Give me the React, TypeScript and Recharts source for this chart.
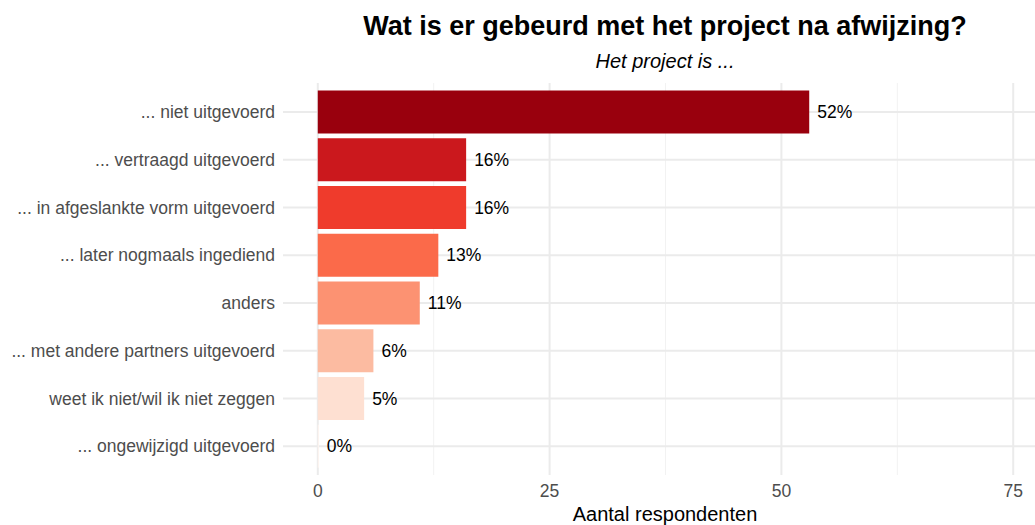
import React from 'react';
import {
  BarChart,
  Bar,
  XAxis,
  YAxis,
  CartesianGrid,
  LabelList,
  Cell,
} from 'recharts';

// antwoordcategorieën (van boven naar beneden)
const categorieen = [
  '... niet uitgevoerd',
  '... vertraagd uitgevoerd',
  '... in afgeslankte vorm uitgevoerd',
  '... later nogmaals ingediend',
  'anders',
  '... met andere partners uitgevoerd',
  'weet ik niet/wil ik niet zeggen',
  '... ongewijzigd uitgevoerd',
];

const aantallen = [53, 16, 16, 13, 11, 6, 5, 0];

const percentages = ['52%', '16%', '16%', '13%', '11%', '6%', '5%', '0%'];

const xTicks = [0, 25, 50, 75];
const xMinorTicks = [12.5, 37.5, 62.5];

// RColorBrewer Reds (8), donker naar licht
const KLEUREN = ['#99000D', '#CB181D', '#EF3B2C', '#FB6A4A', '#FC9272', '#FCBBA1', '#FEE0D2', '#FFF5F0'];

const FONT = '"Liberation Sans", Arial, Helvetica, sans-serif';

const dados = categorieen.map((cat, i) => ({
  cat,
  n: aantallen[i],
  pct: percentages[i],
}));

const tekst = (top: number, size: number, extra: React.CSSProperties = {}): React.CSSProperties => ({
  position: 'absolute',
  left: 0,
  width: 1330,
  top,
  textAlign: 'center',
  fontSize: size,
  lineHeight: `${size}px`,
  fontFamily: FONT,
  color: '#000',
  whiteSpace: 'nowrap',
  ...extra,
});

export default function App() {
  return (
    <div
      style={{
        position: 'absolute',
        left: 0,
        top: 0,
        width: 1035,
        height: 525,
        overflow: 'hidden',
        background: '#fff',
      }}
    >
      <BarChart
        width={1050}
        height={525}
        data={dados}
        layout="vertical"
        margin={{ top: 83, right: 2, bottom: 0, left: 0 }}
        barCategoryGap="5%"
      >
        <CartesianGrid
          horizontal={false}
          verticalValues={xMinorTicks}
          syncWithTicks
          stroke="#F2F2F2"
          strokeWidth={1}
        />
        <CartesianGrid syncWithTicks stroke="#EBEBEB" strokeWidth={2} />
        <XAxis
          type="number"
          domain={[-3.75, 78.75]}
          ticks={xTicks}
          interval={0}
          allowDataOverflow
          axisLine={false}
          tickLine={false}
          tickSize={0}
          tickMargin={10}
          height={50}
          tick={{ fontSize: 17.5, fill: '#4D4D4D', fontFamily: FONT }}
        />
        <YAxis
          type="category"
          dataKey="cat"
          width={283}
          axisLine={false}
          tickLine={false}
          tickSize={0}
          tickMargin={8}
          interval={0}
          padding={{ top: 5, bottom: 5 }}
          tick={{ fontSize: 17.5, fill: '#4D4D4D', fontFamily: FONT }}
        />
        <Bar dataKey="n" minPointSize={1} isAnimationActive={false}>
          {dados.map((d, i) => (
            <Cell key={`cel-${i}`} fill={KLEUREN[i % KLEUREN.length]} />
          ))}
          <LabelList
            dataKey="pct"
            position="right"
            offset={8}
            style={{ fontSize: 17.5, fill: '#000', fontFamily: FONT }}
          />
        </Bar>
      </BarChart>
      <div style={tekst(13, 27, { fontWeight: 'bold' })}>
        Wat is er gebeurd met het project na afwijzing?
      </div>
      <div style={tekst(51, 20, { fontStyle: 'italic' })}>Het project is ...</div>
      <div style={tekst(504, 20)}>Aantal respondenten</div>
    </div>
  );
}
